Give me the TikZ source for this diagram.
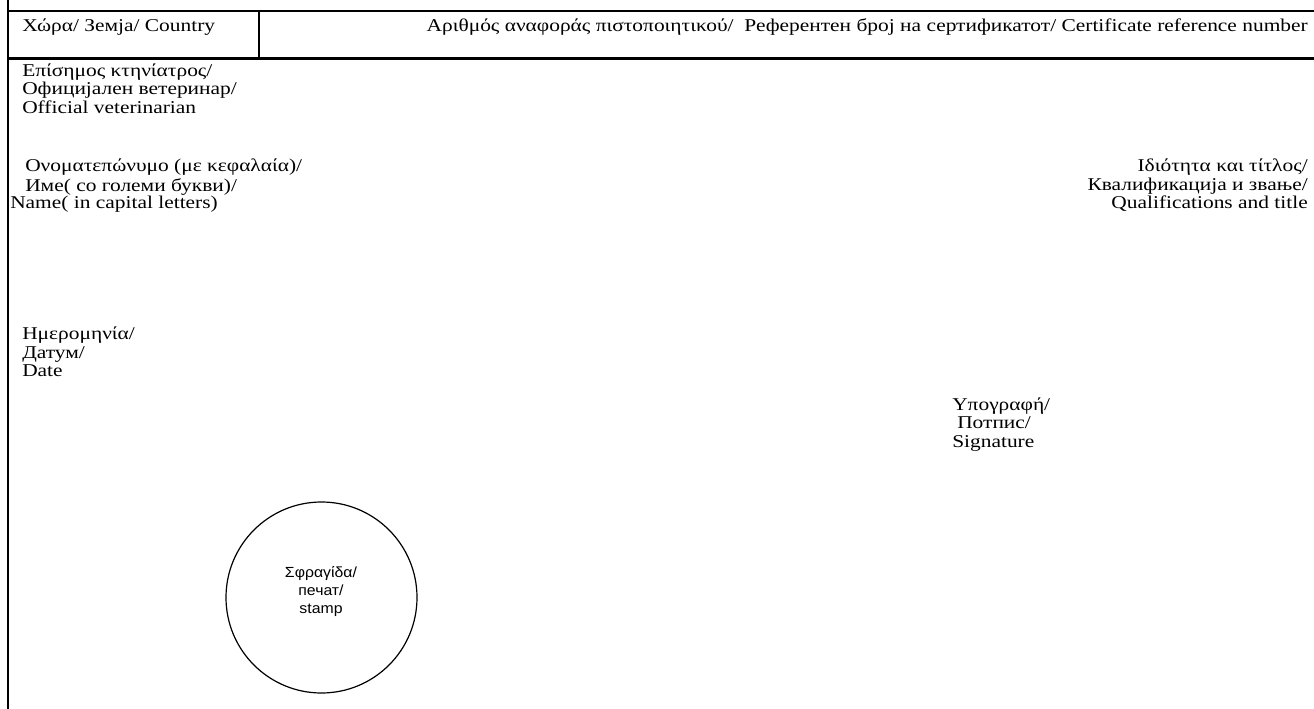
\documentclass[tikz,border=0pt]{standalone}
\usepackage{fontspec}
\setmainfont{Liberation Serif}[FakeStretch=1.19]
\newfontfamily\arialfont{Liberation Sans}[FakeStretch=1.08]
\begin{document}
\begin{tikzpicture}[x=0.75pt,y=-0.75pt,
  frame/.style={line width=1.7pt},
  lbl/.style={inner sep=0pt, font=\fontsize{13.5}{13.75}\selectfont},
  lblL/.style={lbl, anchor=north west, align=left},
  lblR/.style={lbl, anchor=north east, align=right},
  stampc/.style={circle, draw, line width=0.9pt, minimum size=143.25pt, inner sep=0pt},
  stampt/.style={inner sep=0pt, anchor=north, align=center, font=\arialfont\fontsize{11}{13.5}\selectfont}
]
\useasboundingbox (0,0) rectangle (1314,709);
% frame
\coordinate (lt) at (8,0);
\coordinate (lb) at (8,709);
\coordinate (t1l) at (7.15,11);
\coordinate (t1r) at (1314,11);
\coordinate (t2l) at (7.15,58.5);
\coordinate (t2r) at (1314,58.5);
\coordinate (dv1) at (259,11);
\coordinate (dv2) at (259,58.5);
\draw[frame] (lt) -- (lb);
\draw[frame] (t1l) -- (t1r);
\draw[frame] (t2l) -- (t2r);
\draw[frame] (dv1) -- (dv2);
% header row
\node[lblL] (country) at (22,18.3) {\strut Χώρα/ Земја/ Country};
\node[lblR] (certref) at (1308,18.3) {\strut Αριθμός αναφοράς πιστοποιητικού/\ \ Референтен број на сертификатот/ Certificate reference number};
% official veterinarian
\node[lblL] (offvet) at (22,63.3) {\strut Επίσημος κτηνίατρος/\\Официјален ветеринар/\\Official veterinarian};
% name
\node[lblL] (name1) at (25,158.8) {\strut Ονοματεπώνυμο (με κεφαλαία)/\\Име( со големи букви)/};
\node[lblL] (name2) at (10,195.5) {\strut Name( in capital letters)};
% qualifications
\node[lblR] (qual) at (1308,158.8) {\strut Ιδιότητα και τίτλος/\\Квалификација и звање/\\Qualifications and title};
% date
\node[lblL] (date) at (22,326.8) {\strut Ημερομηνία/\\Датум/\\Date};
% signature
\node[lblL] (sig1) at (952,397.3) {\strut Υπογραφή/};
\node[lblL] (sig2) at (957,415.6) {\strut Потпис/};
\node[lblL] (sig3) at (952,433.9) {\strut Signature};
% stamp
\node[stampc] (stamp) at (321.5,597.5) {};
\node[stampt] (stamptext) at (321,564.4) {\strut Σφραγίδα/\\печат/\\stamp};
\end{tikzpicture}
\end{document}
